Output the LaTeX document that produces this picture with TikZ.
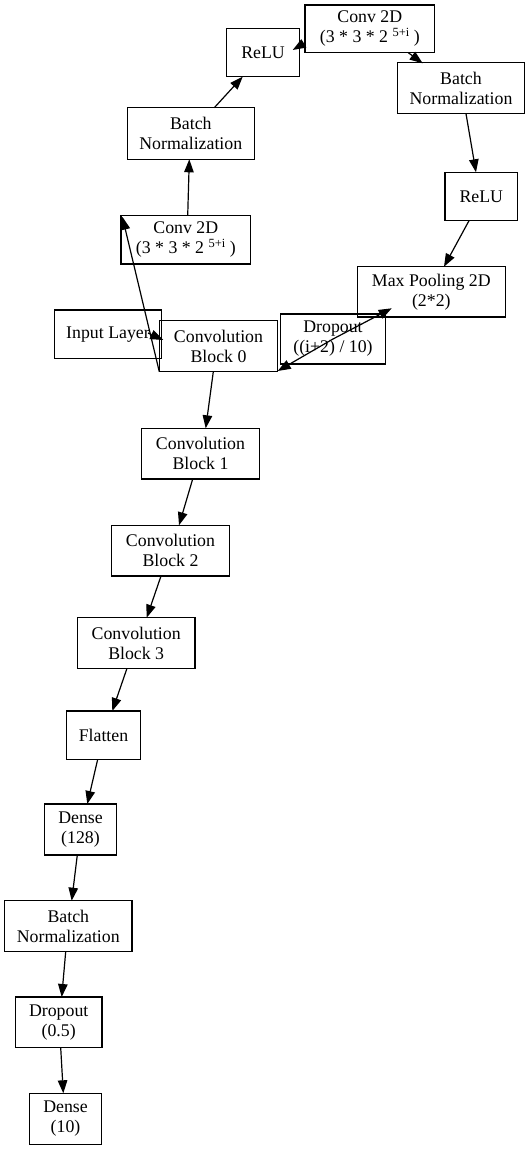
\documentclass[tikz,border=0pt]{standalone}
\usepackage{fontspec}
\setmainfont{Liberation Serif}
\usetikzlibrary{arrows.meta,calc}
\newcommand{\supfive}{\raisebox{6.5pt}{\fontsize{12.5}{12.5}\selectfont 5+i}}
\begin{document}
\begin{tikzpicture}[x=1pt,y=-1pt,
  layer/.style={draw=black,line width=1.2pt,rectangle,inner sep=0pt,align=center,
    font=\fontsize{17.8}{20}\selectfont},
  arr/.style={draw=black,line width=1.2pt,-{Triangle[length=13pt,width=9.5pt]}}]
\useasboundingbox (0,0) rectangle (530,1150);
\node[layer,minimum width=72.6pt,minimum height=48pt] (relu1) at (263,52.7) {ReLU};
\node[layer,minimum width=129.7pt,minimum height=47.7pt] (conv1) at (369.8,28.8) {Conv 2D\\(3 * 3 * 2 \supfive\ )};
\node[layer,minimum width=127.4pt,minimum height=51pt] (bn2) at (461,88.2) {Batch\\Normalization};
\node[layer,minimum width=127pt,minimum height=51.6pt] (bn1) at (190.8,133.5) {Batch\\Normalization};
\node[layer,minimum width=72.7pt,minimum height=48.4pt] (relu2) at (481.3,196.5) {ReLU};
\node[layer,minimum width=129.7pt,minimum height=48.3pt] (conv0) at (185.8,239.8) {Conv 2D\\(3 * 3 * 2 \supfive\ )};
\node[layer,minimum width=148pt,minimum height=50.3pt] (maxpool) at (431.3,291.8) {Max Pooling 2D\\(2*2)};
\node[layer,minimum width=104.6pt,minimum height=50pt] (drop) at (333,339) {Dropout\\((i+2) / 10)};
\node[layer,minimum width=107.4pt,minimum height=48.3pt] (input) at (108,334.2) {Input Layer};
\node[layer,minimum width=118.4pt,minimum height=51pt] (cb0) at (218.5,346.2) {Convolution\\Block 0};
\node[layer,minimum width=117.6pt,minimum height=50.7pt] (cb1) at (200.5,453.7) {Convolution\\Block 1};
\node[layer,minimum width=117.6pt,minimum height=50.7pt] (cb2) at (170.5,550.7) {Convolution\\Block 2};
\node[layer,minimum width=117.7pt,minimum height=50.6pt] (cb3) at (136.2,643) {Convolution\\Block 3};
\node[layer,minimum width=73.6pt,minimum height=48.3pt] (flatten) at (103.5,735.2) {Flatten};
\node[layer,minimum width=72.4pt,minimum height=51pt] (dense128) at (80.5,829.5) {Dense\\(128)};
\node[layer,minimum width=127.3pt,minimum height=51pt] (bn3) at (68.3,926.2) {Batch\\Normalization};
\node[layer,minimum width=86.7pt,minimum height=50.7pt] (drop2) at (58.7,1022.3) {Dropout\\(0.5)};
\node[layer,minimum width=72.4pt,minimum height=51pt] (dense10) at (65.5,1118.8) {Dense\\(10)};

\draw[arr] ($(input)+(40,-1.2)$) -- ($(cb0)+(-55.2,-6.2)$);
\draw[arr] ($(cb0)+(-59.2,25.5)$) -- ($(conv0)+(-63.5,-23.1)$);
\draw[arr] ($(conv0)+(1.9,-24.1)$) -- ($(bn1)+(-1.5,25.8)$);
\draw[arr] ($(bn1)+(23.5,-25.8)$) -- ($(relu1)+(-20.3,24)$);
\draw[arr] ($(conv1)+(-64.8,13.9)$) -- ($(relu1)+(29.7,-2.7)$);
\draw[arr] ($(conv1)+(38.5,23.9)$) -- ($(bn2)+(-38.3,-24.9)$);
\draw[arr] ($(bn2)+(5,25.5)$) -- ($(relu2)+(-5.3,-24.2)$);
\draw[arr] ($(relu2)+(-12.3,24.2)$) -- ($(maxpool)+(12.7,-25.1)$);
\draw[arr] (drop.center) -- ($(maxpool)+(-39.6,16.5)$);
\draw[arr] (drop.center) -- ($(cb0)+(59.2,24.8)$);
\draw[arr] ($(cb0)+(-5.2,25.5)$) -- ($(cb1)+(5.2,-25.4)$);
\draw[arr] ($(cb1)+(-7.8,25.3)$) -- ($(cb2)+(8.5,-25.4)$);
\draw[arr] ($(cb2)+(-9.5,25.3)$) -- ($(cb3)+(10.5,-25.3)$);
\draw[arr] ($(cb3)+(-9.2,25.3)$) -- ($(flatten)+(8.8,-24.2)$);
\draw[arr] ($(flatten)+(-5.8,24.1)$) -- ($(dense128)+(6.8,-25.5)$);
\draw[arr] ($(dense128)+(-3.2,25.5)$) -- ($(bn3)+(3.4,-25.5)$);
\draw[arr] ($(bn3)+(-2.6,25.5)$) -- ($(drop2)+(3,-25.3)$);
\draw[arr] ($(drop2)+(2,25.4)$) -- ($(dense10)+(-2.2,-25.5)$);
\end{tikzpicture}
\end{document}
